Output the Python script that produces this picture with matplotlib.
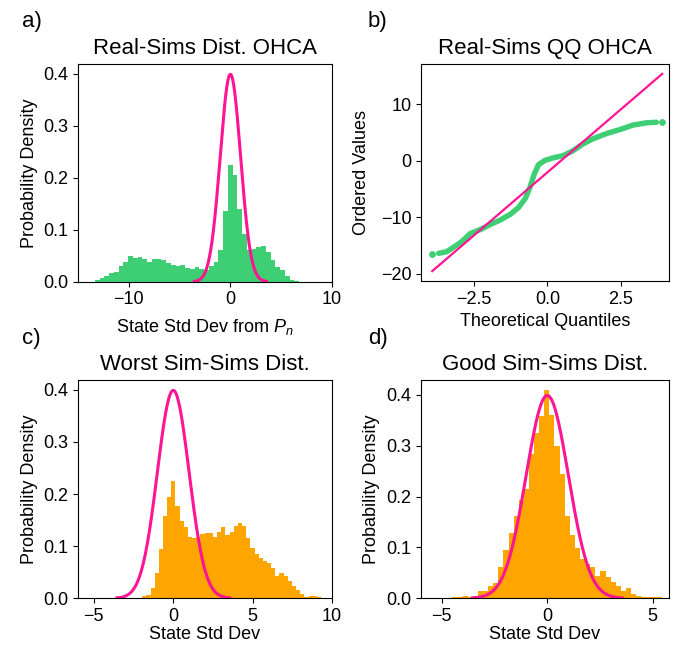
'''
Recreates the 2x2 OHCA distribution / QQ comparison figure
usage: python plot.py
'''

import numpy as np
import matplotlib
matplotlib.use('Agg')
import matplotlib.pyplot as plt

# ---- data ----
# a) Real-Sims histogram (density), 43 bins
a_start = -13.33
a_width = 0.467
a_heights = [0.003, 0.007, 0.011, 0.017, 0.019, 0.030, 0.038, 0.049, 0.046, 0.047,
             0.044, 0.038, 0.044, 0.044, 0.042, 0.036, 0.032, 0.030, 0.032, 0.026,
             0.024, 0.028, 0.024, 0.022, 0.030, 0.038, 0.061, 0.136, 0.225, 0.205,
             0.140, 0.092, 0.061, 0.063, 0.067, 0.069, 0.057, 0.042, 0.028, 0.022,
             0.011, 0.003, 0.0013]

# b) QQ plot: theoretical quantiles vs ordered values
qq_theoretical = [-3.91, -3.69, -3.41, -3.18, -2.90, -2.62, -2.28, -1.94, -1.60, -1.26,
                  -0.98, -0.75, -0.59, -0.44, -0.30, -0.08, 0.20, 0.54, 0.88, 1.22,
                  1.56, 2.01, 2.46, 2.91, 3.36, 3.70, 3.90]
qq_ordered = [-16.6, -16.4, -16.1, -15.3, -14.3, -12.9, -12.2, -11.3, -10.5, -9.5,
              -8.3, -6.7, -4.7, -2.3, -0.7, 0.05, 0.5, 0.9, 1.8, 3.0,
              3.9, 4.8, 5.5, 6.3, 6.7, 6.8, 6.8]
qq_slope = 4.47
qq_intercept = -2.07

# c) worst Sim-Sims histogram
c_start = -1.955
c_width = 0.262
c_heights = [0.004, 0.006, 0.019, 0.048, 0.095, 0.158, 0.195, 0.226, 0.177, 0.148,
             0.137, 0.118, 0.116, 0.118, 0.123, 0.125, 0.125, 0.118, 0.127, 0.137,
             0.121, 0.127, 0.139, 0.145, 0.139, 0.116, 0.096, 0.085, 0.077, 0.071,
             0.067, 0.058, 0.042, 0.048, 0.042, 0.033, 0.023, 0.015, 0.008, 0.003,
             0.004, 0.004, 0.003]

# d) good Sim-Sims histogram
d_start = -4.74
d_width = 0.242
d_heights = [0.0013, 0.0026, 0.0033, 0.0053, 0.002, 0.004, 0.0138, 0.0145, 0.0237, 0.030,
             0.061, 0.095, 0.129, 0.161, 0.194, 0.216, 0.283, 0.326, 0.358, 0.409,
             0.361, 0.299, 0.244, 0.161, 0.125, 0.098, 0.078, 0.068, 0.062, 0.044,
             0.054, 0.042, 0.032, 0.024, 0.0145, 0.020, 0.0086, 0.0046, 0.0026, 0.002,
             0.0026, 0.0026]

# standard normal reference
ref_mean = 0.0
ref_std = 1.0
ref_span = 3.55

green = '#3ecf74'
orange = '#ffa500'
pink = '#ff1493'

plt.rcParams['font.family'] = ['Liberation Sans', 'DejaVu Sans']
plt.rcParams['mathtext.fontset'] = 'custom'
plt.rcParams['mathtext.rm'] = 'Liberation Sans'
plt.rcParams['mathtext.it'] = 'Liberation Sans:italic'
plt.rcParams['font.size'] = 13
plt.rcParams['axes.titlesize'] = 16


def edges(start, width, n):
    return start + width * np.arange(n + 1)


def hist_panel(ax, start, width, heights, color):
    e = edges(start, width, len(heights))
    ax.stairs(heights, e, fill=True, color=color, lw=0)
    xs = np.linspace(ref_mean - ref_span * ref_std, ref_mean + ref_span * ref_std, 400)
    pdf = np.exp(-0.5 * ((xs - ref_mean) / ref_std) ** 2) / (ref_std * np.sqrt(2 * np.pi))
    ax.plot(xs, pdf, color=pink, lw=2.2)
    ax.set_ylim(bottom=0)
    ax.set_yticks([0.0, 0.1, 0.2, 0.3, 0.4])
    ax.set_ylabel('Probability Density')


def main():
    W, H = 674, 646
    fig = plt.figure(figsize=(W / 100, H / 100), dpi=100)

    def box(l, t, r, b):
        return [l / W, 1 - b / H, (r - l) / W, (b - t) / H]

    ax1 = fig.add_axes(box(78, 64, 332, 281.7))
    ax2 = fig.add_axes(box(421, 64, 669, 281))
    ax3 = fig.add_axes(box(78, 380, 332, 598.3))
    ax4 = fig.add_axes(box(420.7, 380, 669, 598.3))

    # a)
    hist_panel(ax1, a_start, a_width, a_heights, green)
    ax1.set_xlim(-15, 10)
    ax1.set_xticks([-10, 0, 10])
    ax1.set_xlabel('State Std Dev from $P_n$', labelpad=6)
    ax1.set_title('Real-Sims Dist. OHCA', pad=7)

    # b)
    qx = np.array(qq_theoretical)
    qy = np.array(qq_ordered)
    ax2.plot(qx[1:-1], qy[1:-1], '-', color=green, lw=3.9, solid_capstyle='round')
    ax2.plot(qx[[0, -1]], qy[[0, -1]], 'o', color=green, ms=3.9)
    lx = np.array([qx.min(), qx.max()])
    ax2.plot(lx, qq_slope * lx + qq_intercept, color=pink, lw=1.6)
    ax2.set_xlim(-4.29, 4.13)
    ax2.set_xticks([-2.5, 0.0, 2.5])
    ax2.set_yticks([-20, -10, 0, 10])
    ax2.set_xlabel('Theoretical Quantiles')
    ax2.set_ylabel('Ordered Values', labelpad=8)
    ax2.set_title('Real-Sims QQ OHCA', pad=7)

    # c)
    hist_panel(ax3, c_start, c_width, c_heights, orange)
    ax3.set_xlim(-6, 10)
    ax3.set_xticks([-5, 0, 5, 10])
    ax3.set_xlabel('State Std Dev', labelpad=1)
    ax3.set_title('Worst Sim-Sims Dist.', pad=7)

    # d)
    hist_panel(ax4, d_start, d_width, d_heights, orange)
    ax4.set_xlim(-6, 5.77)
    ax4.set_xticks([-5, 0, 5])
    ax4.set_xlabel('State Std Dev', labelpad=1)
    ax4.set_title('Good Sim-Sims Dist.', pad=7)

    for txt, x, y in [('a)', 22, 21), ('b)', 368, 21), ('c)', 22, 338), ('d)', 368, 338)]:
        fig.text(x / W, 1 - y / H, txt, fontsize=16, ha='left', va='center')

    fig.savefig('out.png', dpi=100)


if __name__ == '__main__':
    main()
